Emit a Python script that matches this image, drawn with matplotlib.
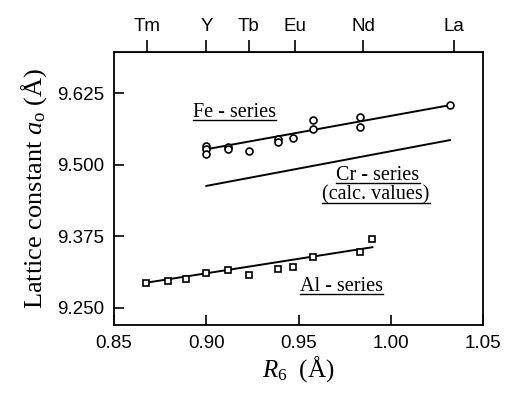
import numpy as np
import matplotlib
matplotlib.use("Agg")
import matplotlib.pyplot as plt
from matplotlib.lines import Line2D

plt.rcParams['mathtext.fontset'] = 'custom'
plt.rcParams['mathtext.rm'] = 'Liberation Serif'
plt.rcParams['mathtext.it'] = 'Liberation Serif:italic'

# Fe-series (measured)
fe_r = [0.900, 0.900, 0.900, 0.912, 0.912, 0.923, 0.9386, 0.9386, 0.947, 0.958, 0.958, 0.983, 0.983, 1.032]
fe_a = [9.532, 9.527, 9.519, 9.531, 9.528, 9.524, 9.545, 9.540, 9.546, 9.578, 9.562, 9.583, 9.566, 9.604]
fe_fit_r = [0.900, 1.032]
fe_fit_a = [9.527, 9.604]

# Cr-series (calculated)
cr_r = [0.900, 1.032]
cr_a = [9.463, 9.543]

# Al-series (measured)
al_r = [0.8674, 0.879, 0.889, 0.900, 0.912, 0.923, 0.9386, 0.947, 0.958, 0.983, 0.990]
al_a = [9.293, 9.297, 9.300, 9.311, 9.316, 9.307, 9.318, 9.322, 9.339, 9.348, 9.370]
al_fit_r = [0.8674, 0.990]
al_fit_a = [9.294, 9.356]

# rare-earth ions on the top axis
ions = ['Tm', 'Y', 'Tb', 'Eu', 'Nd', 'La']
ion_r = [0.868, 0.900, 0.923, 0.948, 0.985, 1.034]

xticks = [0.85, 0.90, 0.95, 1.00, 1.05]
yticks = [9.250, 9.375, 9.500, 9.625]

fig = plt.figure(figsize=(5.07, 3.96), dpi=100)
ax = fig.add_axes([0.225, 0.179, 0.728, 0.690])

ax.plot(fe_fit_r, fe_fit_a, color='black', lw=1.4)
ax.plot(fe_r, fe_a, 'o', ms=5, mfc='white', mec='black', mew=1.2)
ax.plot(cr_r, cr_a, color='black', lw=1.4)
ax.plot(al_fit_r, al_fit_a, color='black', lw=1.4)
ax.plot(al_r, al_a, 's', ms=5, mfc='white', mec='black', mew=1.2)

ax.set_xlim(0.85, 1.05)
ax.set_ylim(9.220, 9.697)
ax.set_xticks(xticks)
ax.set_xticklabels(['%.2f' % v for v in xticks], family='Liberation Sans', fontsize=13.5)
ax.set_yticks(yticks)
ax.set_yticklabels(['%.3f' % v for v in yticks], family='Liberation Sans', fontsize=13.5)
ax.tick_params(direction='in', length=7, width=1.2, top=False, right=False, pad=7)
for s in ax.spines.values():
    s.set_linewidth(1.3)

ax.set_xlabel(r'$R_6\ \ (\mathrm{\AA})$', fontsize=18, labelpad=2)
ax.set_ylabel(r'Lattice constant $a_\mathrm{o}$ $(\mathrm{\AA})$', family='Liberation Serif', fontsize=19, labelpad=6)

top = ax.secondary_xaxis('top')
top.set_xticks(ion_r)
top.set_xticklabels(ions, family='Liberation Sans', fontsize=13.5)
top.tick_params(direction='out', length=9, width=1.2, pad=3)

labels = [('Fe - series', 0.915, 9.592), ('Cr - series', 0.993, 9.482),
          ('(calc. values)', 0.992, 9.447), ('Al - series', 0.973, 9.287)]
texts = [ax.text(x, y, s, family='Liberation Serif', fontsize=14.5, ha='center', va='center')
         for s, x, y in labels]

# underline each label
fig.canvas.draw()
r = fig.canvas.get_renderer()
for t in texts:
    bb = t.get_window_extent(r).transformed(fig.transFigure.inverted())
    yl = bb.y0 + 0.1 * bb.height
    fig.add_artist(Line2D([bb.x0, bb.x1], [yl, yl], color='black', lw=1.0))

fig.savefig('out.png', dpi=100)
